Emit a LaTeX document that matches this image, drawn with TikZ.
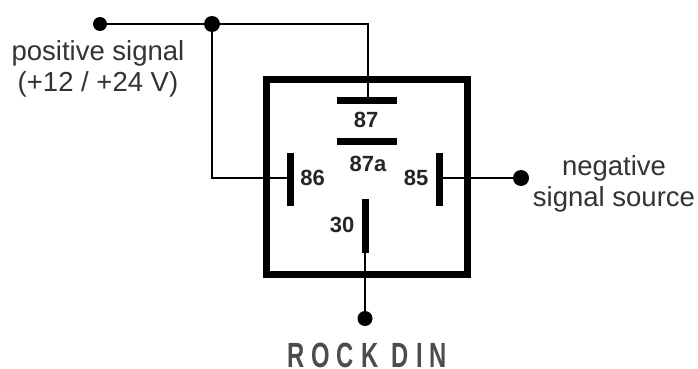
\documentclass[tikz,border=0pt]{standalone}
\usepackage{fontspec}
\setmainfont{Liberation Sans}
\newfontfamily\capsfont[FakeStretch=0.68,LetterSpace=20]{Liberation Sans Bold}
\begin{document}
\begin{tikzpicture}[x=1pt,y=-1pt,
  wire/.style={line width=2pt,line cap=butt},
  contact/.style={line width=7pt},
  dot/.style={circle,fill=black,inner sep=0pt,minimum size=15pt},
  plain/.style={font=\fontsize{27.5}{31}\selectfont,text=black!80,inner sep=0pt,align=center},
  pin/.style={font=\fontsize{22}{24}\selectfont\bfseries,inner sep=0pt,text=black!85}]
\useasboundingbox (0,0) rectangle (698,369);
\fill[white] (0,0) rectangle (698,369);
\node[dot,minimum size=14pt] (p1) at (100,24) {};
\node[dot,minimum size=16pt] (p2) at (212,24) {};
\node[dot,minimum size=16pt] (p3) at (521,178) {};
\node[dot] (p4) at (365,318.5) {};
\coordinate (c87) at (368,100);
\coordinate (c86) at (290.5,178);
\coordinate (c85) at (439,178);
\coordinate (c30) at (365,227);
\draw[line width=6.5pt] (266.5,79.5) rectangle (467.5,274.5);
\draw[wire] (p1) -- (p2.center) -- (368,24) -- (c87);
\draw[wire] (p2) |- (c86);
\draw[wire] (c85) -- (p3);
\draw[wire] (c30) -- (p4);
\draw[contact] (337,100.5) -- (397,100.5);
\draw[contact] (337,141) -- (397,141);
\draw[contact] (290.5,153) -- (290.5,206);
\draw[contact] (439,153) -- (439,206);
\draw[contact] (365,199) -- (365,253);
\node[pin] (n87) at (366,120) {87};
\node[pin] (n87a) at (368,164) {87a};
\node[pin] (n86) at (312.5,178) {86};
\node[pin] (n85) at (416,178) {85};
\node[pin] (n30) at (342,225) {30};
\node[plain] (l1) at (98,69) {positive signal\\(+12 / +24 V)};
\node[plain] (l2) at (614,184) {negative\\signal source};
\node[inner sep=0pt,font=\capsfont\fontsize{35}{37}\selectfont,text=black!70] (t) at (367,355) {ROCK DIN};
\end{tikzpicture}
\end{document}
